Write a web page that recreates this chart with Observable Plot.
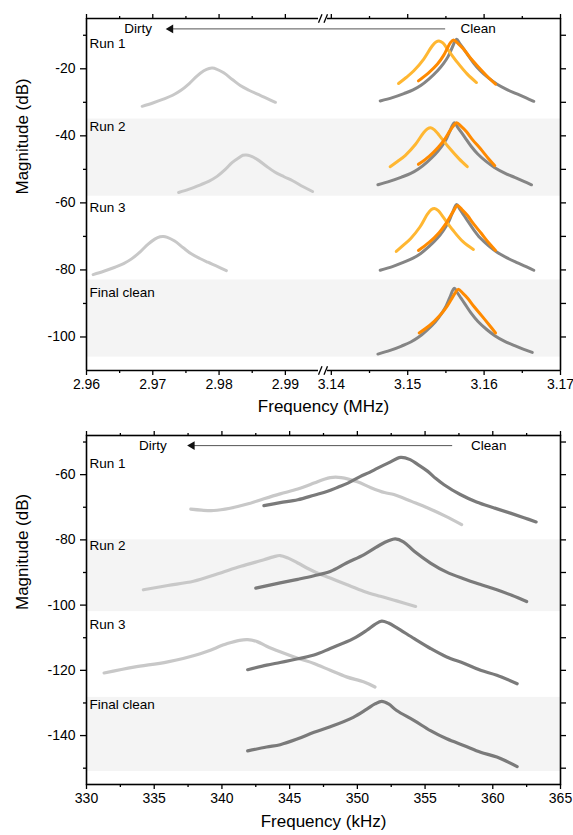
<!DOCTYPE html>
<html><head><meta charset="utf-8">
<script src="https://cdn.jsdelivr.net/npm/d3@7"></script>
<script src="https://cdn.jsdelivr.net/npm/@observablehq/plot@0.6"></script>
<style>
body{margin:0;background:#fff;}
svg{display:block}
</style></head><body><div id="chart"></div>
<script>
// ================= DATA =================
// ---- Top panel: frequency in MHz (broken axis), magnitude in dB ----
const mhzMajorTicks = [2.96, 2.97, 2.98, 2.99, 3.14, 3.15, 3.16, 3.17];
const mhzMinorTicks = [2.965, 2.975, 2.985, 3.145, 3.155, 3.165];
const topDbMajorTicks = [-20, -40, -60, -80, -100];
const topDbMinorTicks = [-10, -30, -50, -70, -90];
const runLabels = ["Run 1", "Run 2", "Run 3", "Final clean"];
const topLabelDb = [-12.6, -37.3, -61.4, -86.7];
const topBands = [[-58, -35], [-106, -83]];
const topArrow = {from: 3.1549, to: 2.9727, db: -8.1, dirtyAt: 2.9678, cleanAt: 3.1569};
const axisBreakSlashes = [[2.995, 3.0512], [3.0833, 3.1395]];

// light gray (dirty) curves, [MHz, dB]
const topRun1Dirty = [[2.9684,-31.2],[2.9700,-30.2],[2.9717,-29.0],[2.9730,-27.9],[2.9742,-26.5],[2.9755,-24.4],[2.9767,-22.1],[2.9777,-20.6],[2.9785,-19.9],[2.9790,-19.8],[2.9796,-20.1],[2.9807,-21.2],[2.9820,-23.2],[2.9832,-25.0],[2.9845,-26.4],[2.9857,-27.5],[2.9872,-28.8],[2.9885,-30.0]];
const topRun2Dirty = [[2.9739,-56.9],[2.9755,-55.9],[2.9772,-54.6],[2.9785,-53.5],[2.9797,-52.1],[2.9809,-50.1],[2.9820,-47.9],[2.9830,-46.5],[2.9836,-45.8],[2.9841,-45.7],[2.9847,-46.0],[2.9858,-47.1],[2.9871,-49.0],[2.9884,-50.8],[2.9898,-52.2],[2.9911,-53.4],[2.9927,-55.2],[2.9941,-56.6]];
const topRun3Dirty = [[2.9610,-81.4],[2.9626,-80.4],[2.9643,-79.2],[2.9656,-78.1],[2.9668,-76.7],[2.9681,-74.6],[2.9693,-72.3],[2.9703,-70.8],[2.9711,-70.1],[2.9716,-70.0],[2.9722,-70.3],[2.9733,-71.4],[2.9746,-73.4],[2.9758,-75.2],[2.9771,-76.6],[2.9783,-77.7],[2.9798,-79.0],[2.9811,-80.2]];
// gray (clean reference) curves
const topRun1Clean = [[3.1464,-29.6],[3.1480,-28.6],[3.1495,-27.4],[3.1507,-26.3],[3.1517,-25.0],[3.1528,-23.0],[3.1539,-20.6],[3.1547,-18.4],[3.1553,-16.3],[3.1558,-13.8],[3.1564,-11.2],[3.1568,-12.4],[3.1573,-14.0],[3.1578,-15.6],[3.1586,-18.2],[3.1595,-20.6],[3.1606,-22.8],[3.1617,-24.6],[3.1630,-26.2],[3.1643,-27.5],[3.1655,-28.7],[3.1665,-29.7]];
const topRun2Clean = [[3.1461,-54.6],[3.1477,-53.5],[3.1492,-52.3],[3.1504,-51.2],[3.1514,-49.9],[3.1525,-47.9],[3.1536,-45.5],[3.1544,-43.3],[3.1550,-41.2],[3.1555,-38.7],[3.1561,-36.1],[3.1565,-37.3],[3.1570,-38.9],[3.1575,-40.5],[3.1583,-43.1],[3.1592,-45.5],[3.1603,-47.7],[3.1614,-49.5],[3.1627,-51.1],[3.1640,-52.4],[3.1652,-53.6],[3.1662,-54.6]];
const topRun3Clean = [[3.1464,-80.1],[3.1480,-79.0],[3.1495,-77.7],[3.1507,-76.5],[3.1517,-75.1],[3.1528,-73.0],[3.1539,-70.5],[3.1547,-68.1],[3.1553,-65.9],[3.1558,-63.3],[3.1564,-60.5],[3.1568,-61.8],[3.1573,-63.5],[3.1578,-65.2],[3.1586,-67.9],[3.1595,-70.5],[3.1606,-72.8],[3.1617,-74.7],[3.1630,-76.4],[3.1643,-77.8],[3.1655,-79.0],[3.1665,-80.1]];
const topFinalClean = [[3.1461,-105.1],[3.1477,-104.0],[3.1492,-102.7],[3.1504,-101.5],[3.1514,-100.1],[3.1525,-98.0],[3.1536,-95.5],[3.1544,-93.1],[3.1550,-90.9],[3.1555,-88.3],[3.1561,-85.5],[3.1565,-86.8],[3.1570,-88.5],[3.1575,-90.2],[3.1583,-92.9],[3.1592,-95.4],[3.1603,-97.7],[3.1614,-99.6],[3.1627,-101.3],[3.1640,-102.6],[3.1652,-103.7],[3.1663,-104.6]];
// light orange curves
const topRun1Light = [[3.1488,-24.4],[3.1498,-22.6],[3.1508,-20.6],[3.1521,-17.1],[3.1532,-13.2],[3.1537,-12.0],[3.1541,-11.7],[3.1546,-12.3],[3.1552,-14.1],[3.1565,-18.1],[3.1578,-21.6],[3.1590,-24.1]];
const topRun2Light = [[3.1477,-49.2],[3.1487,-47.6],[3.1497,-45.8],[3.1510,-42.6],[3.1521,-39.0],[3.1526,-37.9],[3.1530,-37.6],[3.1535,-38.2],[3.1541,-39.8],[3.1554,-43.5],[3.1567,-46.8],[3.1578,-49.2]];
const topRun3Light = [[3.1485,-74.5],[3.1494,-72.7],[3.1504,-70.6],[3.1516,-67.2],[3.1526,-63.3],[3.1531,-62.0],[3.1535,-61.7],[3.1540,-62.3],[3.1546,-64.1],[3.1559,-68.1],[3.1572,-71.5],[3.1586,-73.9]];
// dark orange curves
const topRun1Orange = [[3.1514,-23.6],[3.1527,-21.3],[3.1539,-18.6],[3.1547,-16.0],[3.1552,-13.8],[3.1556,-12.2],[3.1560,-11.4],[3.1566,-12.5],[3.1573,-14.1],[3.1581,-16.5],[3.1591,-19.1],[3.1603,-22.0],[3.1615,-24.6]];
const topRun2Orange = [[3.1514,-48.5],[3.1528,-46.1],[3.1540,-43.4],[3.1549,-40.8],[3.1555,-38.6],[3.1560,-37.0],[3.1564,-36.1],[3.1570,-37.2],[3.1577,-38.8],[3.1585,-41.2],[3.1595,-43.8],[3.1605,-46.6],[3.1614,-48.9]];
const topRun3Orange = [[3.1514,-74.2],[3.1528,-71.8],[3.1541,-68.9],[3.1550,-66.2],[3.1556,-63.9],[3.1561,-62.0],[3.1565,-60.8],[3.1571,-62.0],[3.1578,-63.7],[3.1586,-66.2],[3.1596,-69.0],[3.1606,-71.9],[3.1615,-74.2]];
const topFinalOrange = [[3.1515,-98.8],[3.1529,-96.5],[3.1542,-93.6],[3.1551,-91.0],[3.1557,-88.8],[3.1562,-86.9],[3.1566,-85.8],[3.1572,-86.9],[3.1579,-88.6],[3.1587,-91.0],[3.1597,-93.7],[3.1607,-96.5],[3.1615,-98.8]];

// ---- Bottom panel: frequency in kHz ----
const khzMajorTicks = [330, 335, 340, 345, 350, 355, 360, 365];
const khzMinorTicks = [332.5, 337.5, 342.5, 347.5, 352.5, 357.5, 362.5];
const botDbMajorTicks = [-60, -80, -100, -120, -140];
const botDbMinorTicks = [-50, -70, -90, -110, -130, -150];
const botLabelDb = [-56.6, -81.8, -106, -130.6];
const botBands = [[-102, -80], [-151, -128.3]];
const botArrow = {from: 357.0, to: 337.8, db: -51.1, dirtyAt: 334.9, cleanAt: 358.4};

const botRun1Dirty = [[337.7,-70.6],[338.5,-70.9],[339.4,-71.0],[340.6,-70.3],[341.8,-69.1],[343.1,-67.4],[344.3,-65.9],[345.6,-64.4],[346.8,-62.6],[347.5,-61.5],[348.0,-60.9],[348.8,-60.9],[350.0,-62.2],[351.0,-64.0],[352.0,-65.5],[352.7,-66.1],[354.0,-68.2],[355.2,-70.2],[356.5,-72.7],[357.7,-75.3]];
const botRun2Dirty = [[334.2,-95.3],[336.0,-94.0],[337.9,-92.7],[339.7,-90.4],[341.4,-88.1],[343.1,-86.1],[343.8,-85.2],[344.3,-84.8],[344.9,-85.6],[345.6,-87.1],[346.8,-89.7],[348.0,-91.7],[349.2,-93.7],[350.5,-95.8],[351.7,-97.3],[352.9,-98.7],[354.3,-100.4]];
const botRun3Dirty = [[331.3,-120.8],[333.5,-119.0],[336.0,-117.4],[338.4,-114.9],[340.4,-111.8],[341.3,-110.8],[341.9,-110.6],[342.6,-111.2],[343.3,-112.6],[344.3,-114.3],[345.6,-116.3],[346.8,-117.9],[348.0,-120.0],[349.2,-122.0],[350.5,-123.6],[351.3,-125.1]];
const botRun1Clean = [[343.1,-69.5],[344.3,-68.6],[345.6,-67.7],[346.8,-66.3],[347.8,-65.1],[348.6,-63.8],[349.3,-62.6],[350.2,-60.6],[350.9,-59.3],[351.5,-58.0],[352.3,-56.4],[353.2,-54.7],[353.9,-55.4],[354.5,-57.0],[355.2,-59.0],[355.8,-61.2],[356.4,-63.1],[357.6,-66.1],[358.8,-68.4],[360.1,-70.2],[361.3,-71.8],[362.3,-73.2],[363.2,-74.5]];
const botRun2Clean = [[342.5,-94.8],[344.3,-93.2],[345.6,-92.1],[346.8,-91.0],[348.0,-89.7],[349.2,-87.1],[350.5,-84.5],[351.7,-81.5],[352.3,-80.3],[352.8,-79.7],[353.4,-80.6],[354.2,-83.5],[355.4,-87.1],[356.6,-89.9],[357.9,-92.0],[359.1,-93.7],[360.3,-95.3],[361.4,-97.0],[362.5,-98.9]];
const botRun3Clean = [[341.9,-119.8],[343.3,-118.4],[344.3,-117.6],[345.1,-116.9],[346.8,-115.3],[348.0,-113.3],[349.7,-110.3],[350.7,-107.7],[351.3,-105.9],[351.8,-104.9],[352.3,-105.5],[352.9,-106.9],[354.2,-110.3],[355.4,-113.3],[356.6,-115.9],[357.9,-117.9],[359.1,-120.0],[360.3,-121.5],[361.8,-124.1]];
const botFinalClean = [[341.9,-144.7],[343.3,-143.5],[344.3,-142.8],[345.6,-141.0],[346.8,-139.0],[348.0,-137.3],[349.7,-134.4],[350.7,-131.9],[351.3,-130.3],[351.8,-129.5],[352.3,-130.3],[352.9,-132.3],[354.2,-135.4],[355.4,-138.5],[356.6,-141.0],[357.9,-143.1],[359.1,-145.1],[360.3,-146.6],[361.8,-149.5]];

// ================= STYLES =================
const C = {dirty: "#c8c8c8", clean: "#858585", light: "#ffb732", orange: "#ff8a00", cleanBot: "#7a7a7a", band: "#f4f4f4"};
const FONT = "'Liberation Sans', Arial, Helvetica, sans-serif";
const fmt = d => String(d);

function lineMark(data, stroke, w = 3, curve = "catmull-rom") {
  return Plot.line(data, {x: d => d[0], y: d => d[1], stroke, strokeWidth: w, curve});
}
function commonAxes(xMaj, xMin, yMaj, yMin, xFmt) {
  return [
    Plot.axisX({ticks: xMaj, anchor: "bottom", tickSize: 5, tickPadding: 4, fontSize: 14, tickFormat: xFmt, strokeWidth: 1.3, label: null}),
    Plot.axisX({ticks: xMin, anchor: "bottom", tickSize: 3, tickFormat: () => "", strokeWidth: 1.3, label: null}),
    Plot.axisX({ticks: xMaj, anchor: "top", tickSize: 5, tickFormat: () => "", strokeWidth: 1.3, label: null}),
    Plot.axisX({ticks: xMin, anchor: "top", tickSize: 3, tickFormat: () => "", strokeWidth: 1.3, label: null}),
    Plot.axisY({ticks: yMaj, anchor: "left", tickSize: 6, tickPadding: 5, fontSize: 14, tickFormat: fmt, strokeWidth: 1.3, label: null}),
    Plot.axisY({ticks: yMin, anchor: "left", tickSize: 3, tickFormat: () => "", strokeWidth: 1.3, label: null}),
    Plot.axisY({ticks: yMaj.concat(yMin), anchor: "right", tickSize: 5, tickFormat: () => "", strokeWidth: 1.3, label: null})
  ];
}
function annotations(labelDb, xStart, arrow) {
  return [
    Plot.text(runLabels, {x: () => xStart, y: (d, i) => labelDb[i], text: d => d, textAnchor: "start", dx: 3, fontSize: 13.5, fill: "black"}),
    Plot.link([arrow], {x1: d => d.from, x2: d => d.to, y1: d => d.db, y2: d => d.db, stroke: "#555", strokeWidth: 1}),
    Plot.dot([arrow], {x: d => d.to, y: d => d.db, symbol: "triangle", r: 3.2, rotate: -90, fill: "#111", stroke: "none"}),
    Plot.text([arrow], {x: d => d.dirtyAt, y: d => d.db, text: () => "Dirty", fontSize: 13.5, fill: "black"}),
    Plot.text([arrow], {x: d => d.cleanAt, y: d => d.db, text: () => "Clean", textAnchor: "start", fontSize: 13.5, fill: "black"})
  ];
}

// ================= TOP PANEL =================
const topDomain = [-110, -5];
const breakMarks = topDomain.flatMap(edge => axisBreakSlashes.map(s => ({x1: s[0], x2: s[1], y1: edge - 1.3, y2: edge + 1.3})));
const topChart = Plot.plot({
  width: 573, height: 420,
  marginLeft: 86, marginRight: 13, marginTop: 18, marginBottom: 50,
  style: {fontFamily: FONT, fontSize: "14px", color: "black", background: "white", overflow: "visible"},
  x: {type: "linear", domain: [2.96, 2.995, 3.1395, 3.17], range: [86, 318, 327, 560]},
  y: {domain: topDomain},
  marks: [
    Plot.rect(topBands, {x1: () => 2.96, x2: () => 3.17, y1: d => d[0], y2: d => d[1], fill: C.band}),
    lineMark(topRun1Dirty, C.dirty), lineMark(topRun2Dirty, C.dirty), lineMark(topRun3Dirty, C.dirty),
    lineMark(topRun1Clean, C.clean), lineMark(topRun2Clean, C.clean), lineMark(topRun3Clean, C.clean), lineMark(topFinalClean, C.clean),
    lineMark(topRun1Light, C.light), lineMark(topRun2Light, C.light), lineMark(topRun3Light, C.light),
    lineMark(topRun1Orange, C.orange), lineMark(topRun2Orange, C.orange), lineMark(topRun3Orange, C.orange), lineMark(topFinalOrange, C.orange),
    // broken frame
    Plot.ruleX([2.96, 3.17], {y1: topDomain[0], y2: topDomain[1], stroke: "black", strokeWidth: 1.6}),
    Plot.ruleY(topDomain, {x1: () => 2.96, x2: () => 2.995, stroke: "black", strokeWidth: 1.6}),
    Plot.ruleY(topDomain, {x1: () => 3.1395, x2: () => 3.17, stroke: "black", strokeWidth: 1.6}),
    Plot.link(breakMarks, {x1: "x1", x2: "x2", y1: "y1", y2: "y2", stroke: "black", strokeWidth: 1.3}),
    ...commonAxes(mhzMajorTicks, mhzMinorTicks, topDbMajorTicks, topDbMinorTicks, d => d.toFixed(2)),
    ...annotations(topLabelDb, 2.96, topArrow),
    Plot.text(["Frequency (MHz)"], {frameAnchor: "bottom", dy: 41, text: d => d, fontSize: 17, fill: "black"}),
    Plot.text(["Magnitude (dB)"], {frameAnchor: "left", dx: -64, rotate: -90, text: d => d, fontSize: 17, fill: "black"})
  ]
});

// ================= BOTTOM PANEL =================
const botChart = Plot.plot({
  width: 573, height: 415,
  marginLeft: 86, marginRight: 13, marginTop: 15, marginBottom: 51,
  style: {fontFamily: FONT, fontSize: "14px", color: "black", background: "white", overflow: "visible"},
  x: {domain: [330, 365]},
  y: {domain: [-155, -48]},
  marks: [
    Plot.rect(botBands, {x1: () => 330, x2: () => 365, y1: d => d[0], y2: d => d[1], fill: C.band}),
    lineMark(botRun1Dirty, C.dirty, 3.2), lineMark(botRun2Dirty, C.dirty, 3.2), lineMark(botRun3Dirty, C.dirty, 3.2),
    lineMark(botRun1Clean, C.cleanBot, 3.2), lineMark(botRun2Clean, C.cleanBot, 3.2), lineMark(botRun3Clean, C.cleanBot, 3.2), lineMark(botFinalClean, C.cleanBot, 3.2),
    Plot.frame({stroke: "black", strokeWidth: 1.6}),
    ...commonAxes(khzMajorTicks, khzMinorTicks, botDbMajorTicks, botDbMinorTicks, fmt),
    ...annotations(botLabelDb, 330, botArrow),
    Plot.text(["Frequency (kHz)"], {frameAnchor: "bottom", dy: 42, text: d => d, fontSize: 17, fill: "black"}),
    Plot.text(["Magnitude (dB)"], {frameAnchor: "left", dx: -64, rotate: -90, text: d => d, fontSize: 17, fill: "black"})
  ]
});

const root = document.getElementById("chart");
root.appendChild(topChart);
root.appendChild(botChart);
</script>
</body></html>
